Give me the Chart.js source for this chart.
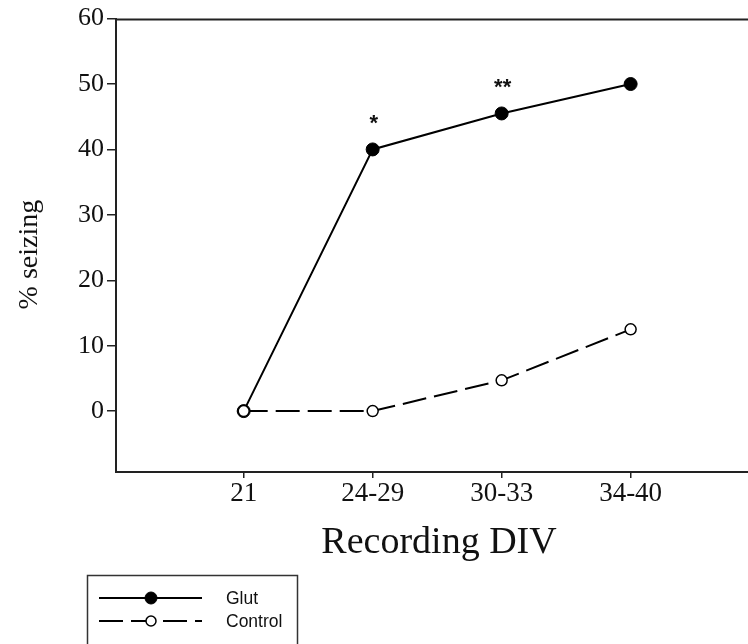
<!DOCTYPE html>
<html><head><meta charset="utf-8">
<script src="https://cdn.jsdelivr.net/npm/chart.js@4/dist/chart.umd.min.js"></script>
<style>html,body{margin:0;padding:0;background:#fff}#wrap{width:748px;height:644px}</style>
</head><body><div id="wrap"><canvas id="c" width="748" height="644"></canvas></div>
<script>
// ---- data ----
const categories = ['21', '24-29', '30-33', '34-40'];
const glutValues = [0, 40, 45.5, 50];
const controlValues = [0, 0, 4.7, 12.5];
const glutSignificance = ['', '*', '**', ''];
const yTickValues = [0, 10, 20, 30, 40, 50, 60];
const seriesNames = ['Glut', 'Control'];
const xTitle = 'Recording DIV';
const yTitle = '% seizing';

const toPoints = vals => vals.map((v, i) => ({ x: i + 1, y: v }));

const serif = 'Liberation Serif';
const sans = 'Liberation Sans';

const extrasPlugin = {
  id: 'extras',
  afterDraw(chart) {
    const ctx = chart.ctx;
    const ca = chart.chartArea;
    ctx.save();
    // top frame line
    ctx.strokeStyle = '#222';
    ctx.lineWidth = 2;
    ctx.beginPath();
    ctx.moveTo(ca.left - 1, ca.top + 1);
    ctx.lineTo(ca.right, ca.top + 1);
    ctx.stroke();

    // axis titles
    ctx.fillStyle = '#111';
    ctx.textAlign = 'center';
    ctx.textBaseline = 'middle';
    ctx.font = '38px "' + serif + '"';
    ctx.fillText(xTitle, ca.left + 323, 543);
    ctx.save();
    ctx.translate(30, ca.top + 236);
    ctx.rotate(-Math.PI / 2);
    ctx.font = '28px "' + serif + '"';
    ctx.fillText(yTitle, 0, 0);
    ctx.restore();

    // significance marks above Glut points
    const gi = chart.data.datasets.findIndex(d => d.label === 'Glut');
    const meta = chart.getDatasetMeta(gi);
    const fs = 22;
    ctx.font = 'bold ' + fs + 'px "' + sans + '"';
    ctx.textAlign = 'center';
    ctx.textBaseline = 'alphabetic';
    glutSignificance.forEach((s, i) => {
      if (!s) return;
      const el = meta.data[i];
      ctx.fillText(s, el.x + 1, el.y - 32 + 0.57 * fs);
    });

    // legend box
    const bx = 87, by = 575, bw = 210, bh = 100;
    ctx.strokeStyle = '#333';
    ctx.lineWidth = 1.5;
    ctx.strokeRect(bx + 0.5, by + 0.5, bw, bh);
    seriesNames.forEach((name, k) => {
      const ds = chart.data.datasets.find(d => d.label === name);
      const y = by + 23 + k * 23;
      ctx.save();
      ctx.strokeStyle = ds.borderColor;
      ctx.lineWidth = ds.borderWidth;
      ctx.setLineDash(ds.borderDash || []);
      ctx.beginPath();
      ctx.moveTo(bx + 12, y);
      ctx.lineTo(bx + 115, y);
      ctx.stroke();
      ctx.setLineDash([]);
      ctx.beginPath();
      ctx.arc(bx + 64, y, ds.pointRadius - 0.5, 0, Math.PI * 2);
      ctx.fillStyle = ds.pointBackgroundColor;
      ctx.fill();
      ctx.lineWidth = ds.pointBorderWidth;
      ctx.strokeStyle = ds.pointBorderColor;
      ctx.stroke();
      ctx.restore();
      ctx.fillStyle = '#111';
      ctx.font = '17.5px "' + sans + '"';
      ctx.textAlign = 'left';
      ctx.textBaseline = 'middle';
      ctx.fillText(name, bx + 139, y + 1);
    });
    ctx.restore();
  }
};

new Chart(document.getElementById('c'), {
  type: 'line',
  data: {
    datasets: [
      {
        label: seriesNames[0],
        data: toPoints(glutValues),
        borderColor: '#000',
        borderWidth: 2,
        pointRadius: 6.5,
        pointBackgroundColor: '#000',
        pointBorderColor: '#000',
        pointBorderWidth: 1,
        tension: 0,
        order: 1
      },
      {
        label: seriesNames[1],
        data: toPoints(controlValues),
        borderColor: '#000',
        borderWidth: 2,
        borderDash: [24, 8],
        pointRadius: 5.5,
        pointBackgroundColor: '#fff',
        pointBorderColor: '#000',
        pointBorderWidth: 1.5,
        tension: 0,
        order: 0
      }
    ]
  },
  options: {
    responsive: false,
    animation: false,
    devicePixelRatio: 1,
    layout: { autoPadding: false, padding: { top: 18, left: 0, right: 0, bottom: 0 } },
    plugins: { legend: { display: false }, tooltip: { enabled: false } },
    scales: {
      x: {
        type: 'linear',
        min: 0.01,
        max: 4.91,
        afterBuildTicks: s => { s.ticks = categories.map((c, i) => ({ value: i + 1 })); },
        afterFit: s => { s.height = 172; },
        ticks: {
          callback: v => categories[v - 1] ?? '',
          font: { family: serif, size: 27 },
          color: '#111',
          padding: 0,
          maxRotation: 0,
          autoSkip: false
        },
        grid: { drawOnChartArea: false, tickLength: 6, color: '#222', lineWidth: 1.5 },
        border: { color: '#222', width: 2 }
      },
      y: {
        type: 'linear',
        min: -9.31,
        max: 60,
        afterBuildTicks: s => { s.ticks = yTickValues.map(v => ({ value: v })); },
        afterFit: s => { s.width = 116; },
        ticks: {
          font: { family: serif, size: 26 },
          color: '#111',
          padding: 3
        },
        grid: { drawOnChartArea: false, tickLength: 9, color: '#222', lineWidth: 1.5 },
        border: { color: '#222', width: 2 }
      }
    }
  },
  plugins: [extrasPlugin]
});
</script>
</body></html>
